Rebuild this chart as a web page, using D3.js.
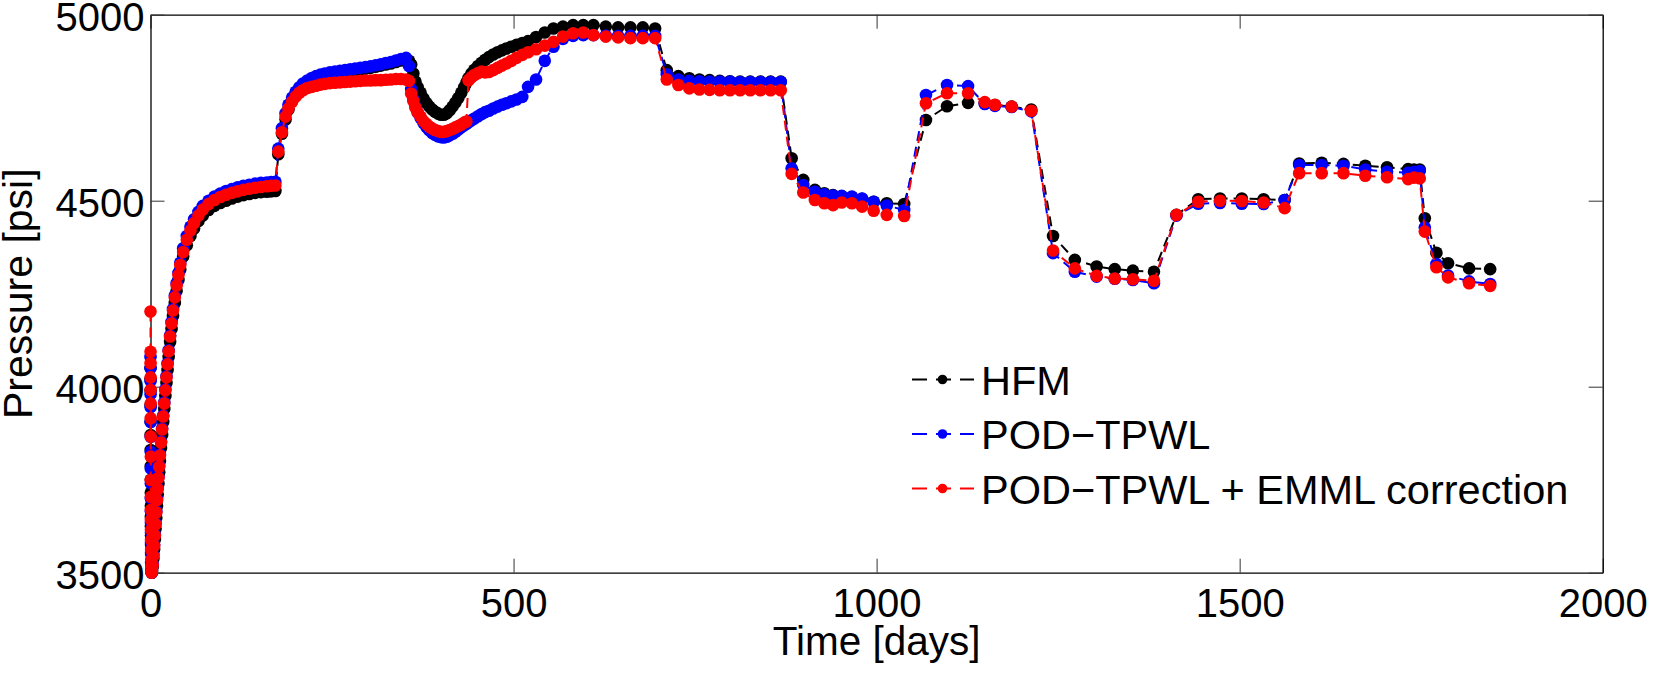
<!DOCTYPE html>
<html>
<head>
<meta charset="utf-8">
<script src="https://cdn.jsdelivr.net/npm/d3@7"></script>
<style>
  html, body { margin: 0; padding: 0; background: #fff; }
  svg text { font-family: "Liberation Sans", Arial, Helvetica, sans-serif; fill: #000; }
</style>
</head>
<body>
<svg id="chart" width="1674" height="684"></svg>
<script>
"use strict";

/* time steps [days], one row per control period */
var days = [
  0, 0.05, 0.1, 0.15, 0.2, 0.25, 0.3, 0.35, 0.4, 0.45, 0.5, 0.55, 0.6, 0.7, 0.8, 0.9, 1.0, 1.2, 1.4, 1.7,
  2, 3, 4, 5, 6, 7, 8, 9, 10, 11, 12, 13, 14.5, 16, 17.5, 19, 20.5, 22, 23.5, 25, 27, 29, 31, 33.5, 36, 38.5, 41, 45, 50, 55, 60, 66, 72, 80, 88, 96, 104, 112, 120, 128, 136, 144, 152, 160, 166, 172,
  176, 181, 186, 190, 195, 200, 205, 210, 216, 222, 228, 234, 240, 247, 254, 261, 268, 275, 282, 289, 296, 303, 310, 317, 324, 331, 338, 345, 352,
  356, 359, 362, 365, 368, 372, 376, 380, 384, 388, 392, 396, 400, 404, 408, 412, 416, 420, 424, 428, 432, 435, 438, 442, 446, 451, 456, 461, 466, 472, 478, 484, 490, 497, 504, 512, 520, 531, 543, 555, 568, 582, 596, 610, 627, 644, 661, 678, 695,
  711, 727, 742, 756, 770, 784, 798, 812, 826, 840, 854, 868,
  883, 899, 915, 928, 940, 952, 966, 980, 996, 1014, 1038,
  1068, 1097, 1126, 1149, 1163, 1186, 1213,
  1243, 1273, 1303, 1328, 1353, 1382,
  1413, 1443, 1473, 1503, 1533, 1562,
  1582, 1613, 1643, 1673, 1703, 1732, 1740, 1748,
  1755, 1771, 1787, 1816, 1845
];

var hfm = [
  4050, 4020, 3990, 3950, 3906, 3870, 3830, 3786, 3750, 3715, 3680, 3650, 3625, 3600, 3575, 3550, 3528, 3512, 3503, 3500,
  3502, 3515, 3538, 3563, 3590, 3618, 3648, 3680, 3710, 3740, 3770, 3800, 3835, 3870, 3905, 3940, 3975, 4010, 4045, 4080, 4120, 4155, 4190, 4225, 4258, 4287, 4315, 4350, 4380, 4405, 4425, 4445, 4460, 4475, 4486, 4494, 4500, 4506, 4511, 4515, 4518, 4521, 4523, 4524, 4525, 4526,
  4625, 4680, 4718, 4745, 4768, 4785, 4798, 4808, 4817, 4825, 4830, 4835, 4838, 4841, 4843, 4845, 4847, 4849, 4851, 4853, 4855, 4857, 4860, 4863, 4866, 4869, 4873, 4877, 4880,
  4876, 4866, 4842, 4820, 4805, 4790, 4775, 4763, 4753, 4745, 4739, 4734, 4731, 4731, 4735, 4743, 4753, 4764, 4776, 4790, 4805, 4817, 4830, 4842, 4852, 4862, 4871, 4879, 4886, 4893, 4899, 4904, 4909, 4914, 4919, 4924, 4929, 4940, 4952, 4963, 4968, 4972, 4972, 4972, 4968, 4966, 4966, 4966, 4963,
  4851, 4835, 4829, 4826, 4824, 4822, 4821, 4820, 4820, 4820, 4820, 4820,
  4614, 4556, 4529, 4520, 4515, 4512, 4510, 4505, 4497, 4493, 4491,
  4717, 4754, 4763, 4762, 4757, 4753, 4745,
  4405, 4341, 4323, 4316, 4312, 4309,
  4462, 4504, 4506, 4506, 4504, 4502,
  4600, 4602, 4599, 4594, 4590, 4585, 4584, 4584,
  4453, 4360, 4332, 4318, 4316
];

var podTpwl = [
  4080, 4050, 4015, 3980, 3945, 3905, 3865, 3825, 3780, 3740, 3700, 3665, 3635, 3608, 3580, 3555, 3530, 3514, 3504, 3500,
  3505, 3523, 3548, 3575, 3603, 3633, 3665, 3698, 3728, 3758, 3788, 3818, 3853, 3888, 3923, 3958, 3993, 4028, 4063, 4098, 4138, 4174, 4209, 4245, 4278, 4306, 4333, 4372, 4405, 4430, 4450, 4470, 4486, 4500, 4511, 4519, 4526, 4531, 4536, 4540, 4543, 4546, 4548, 4549, 4550, 4551,
  4640, 4695, 4735, 4758, 4777, 4793, 4805, 4815, 4823, 4830, 4835, 4839, 4842, 4845, 4847, 4849, 4851, 4853, 4855, 4857, 4859, 4861, 4864, 4867, 4870, 4873, 4877, 4881, 4884,
  4862, 4800, 4772, 4752, 4737, 4722, 4709, 4698, 4689, 4682, 4677, 4673, 4671, 4670, 4672, 4676, 4680, 4685, 4691, 4697, 4703, 4707, 4711, 4716, 4721, 4727, 4733, 4738, 4742, 4748, 4753, 4758, 4762, 4767, 4772, 4779, 4806, 4826, 4876, 4914, 4935, 4943, 4945, 4945, 4944, 4943, 4943, 4943, 4943,
  4840, 4826, 4822, 4821, 4820, 4820, 4820, 4819, 4819, 4819, 4819, 4819,
  4587, 4542, 4524, 4517, 4514, 4513, 4511, 4506, 4497, 4487, 4475,
  4784, 4811, 4808, 4760, 4755, 4752, 4740,
  4359, 4309, 4296, 4290, 4287, 4278,
  4460, 4492, 4494, 4492, 4491, 4502,
  4596, 4596, 4594, 4584, 4578, 4575, 4578, 4580,
  4428, 4330, 4299, 4283, 4276
];

var podTpwlEmml = [
  4202, 4094, 4063, 4025, 3991, 3955, 3915, 3866, 3812, 3749, 3704, 3669, 3642, 3615, 3588, 3561, 3534, 3516, 3505, 3500,
  3503, 3520, 3545, 3572, 3600, 3630, 3662, 3695, 3725, 3755, 3785, 3815, 3850, 3885, 3920, 3955, 3990, 4025, 4060, 4095, 4135, 4170, 4205, 4240, 4272, 4300, 4327, 4362, 4395, 4420, 4440, 4460, 4476, 4491, 4502, 4510, 4516, 4521, 4525, 4529, 4532, 4535, 4537, 4539, 4540, 4541,
  4632, 4684, 4726, 4748, 4766, 4780, 4790, 4797, 4803, 4806, 4809, 4812, 4814, 4816, 4817, 4818, 4819, 4820, 4821, 4822, 4823, 4823, 4824, 4824, 4825, 4826, 4827, 4827, 4826,
  4822, 4788, 4768, 4750, 4737, 4726, 4714, 4706, 4699, 4694, 4690, 4687, 4685, 4685, 4687, 4690, 4693, 4697, 4701, 4705, 4710, 4713, 4824, 4832, 4838, 4843, 4847, 4845, 4846, 4851, 4857, 4863, 4869, 4876, 4884, 4892, 4899, 4907, 4917, 4927, 4941, 4950, 4952, 4945, 4941, 4939, 4937, 4937, 4937,
  4826, 4811, 4802, 4799, 4798, 4797, 4797, 4797, 4797, 4797, 4797, 4797,
  4572, 4522, 4502, 4493, 4488, 4495, 4493, 4484, 4473, 4462, 4459,
  4762, 4789, 4789, 4765, 4758, 4753, 4742,
  4366, 4318, 4298, 4291, 4289, 4285,
  4462, 4497, 4500, 4499, 4495, 4480,
  4574, 4574, 4574, 4567, 4563, 4558, 4562, 4560,
  4417, 4321, 4294, 4278, 4271
];

var seriesNames = ["HFM", "POD\u2212TPWL", "POD\u2212TPWL + EMML correction"];
var seriesColors = ["#000000", "#0000ff", "#ff0000"];
var xTicks = [0, 500, 1000, 1500, 2000];
var yTicks = [3500, 4000, 4500, 5000];

var FONT = 40;
var plotLeft = 150.5, plotRight = 1602.7, plotTop = 14.7, plotBottom = 572.7;

var x = d3.scaleLinear().domain([0, 2000]).range([plotLeft, plotRight]);
var y = d3.scaleLinear().domain([3500, 5000]).range([plotBottom, plotTop]);

var svg = d3.select("#chart");
svg.append("rect").attr("width", 1674).attr("height", 684).attr("fill", "#fff");

/* axes, ticks pointing inside, mirrored on top and right */
function styleAxis(g) {
  g.attr("font-family", null).attr("font-size", null);
  g.select(".domain").attr("stroke", "#000").attr("stroke-width", 1.3);
  g.selectAll(".tick line").attr("stroke", "#333").attr("stroke-width", 1);
  g.selectAll(".tick text").style("font-size", FONT + "px");
}

svg.append("g")
   .attr("transform", "translate(0," + plotBottom + ")")
   .call(d3.axisBottom(x).tickValues(xTicks).tickSizeInner(-14).tickSizeOuter(0)
           .tickPadding(16).tickFormat(d3.format("d")))
   .call(styleAxis);

svg.append("g")
   .attr("transform", "translate(0," + plotTop + ")")
   .call(d3.axisTop(x).tickValues(xTicks).tickSizeInner(-14).tickSizeOuter(0).tickFormat(""))
   .call(styleAxis);

svg.append("g")
   .attr("transform", "translate(" + plotLeft + ",0)")
   .call(d3.axisLeft(y).tickValues(yTicks).tickSizeInner(-14).tickSizeOuter(0)
           .tickPadding(6).tickFormat(d3.format("d")))
   .call(styleAxis)
   .selectAll(".tick text").attr("dy", "0.4em");

svg.append("g")
   .attr("transform", "translate(" + plotRight + ",0)")
   .call(d3.axisRight(y).tickValues(yTicks).tickSizeInner(-14).tickSizeOuter(0).tickFormat(""))
   .call(styleAxis);

/* axis titles */
svg.append("text")
   .attr("x", (plotLeft + plotRight) / 2)
   .attr("y", 655)
   .attr("text-anchor", "middle")
   .style("font-size", "40.5px")
   .text("Time [days]");

svg.append("text")
   .attr("transform", "translate(32," + ((plotTop + plotBottom) / 2) + ") rotate(-90)")
   .attr("text-anchor", "middle")
   .style("font-size", "41px")
   .text("Pressure [psi]");

/* series */
var series = [hfm, podTpwl, podTpwlEmml].map(function (vals, i) {
  return {
    name: seriesNames[i],
    color: seriesColors[i],
    points: vals.map(function (v, j) { return { t: days[j], p: v }; })
  };
});

var line = d3.line()
             .x(function (d) { return x(d.t); })
             .y(function (d) { return y(d.p); });

series.forEach(function (s, i) {
  var g = svg.append("g").attr("class", "series_" + i);
  g.append("path")
   .datum(s.points)
   .attr("d", line)
   .attr("fill", "none")
   .attr("stroke", s.color)
   .attr("stroke-width", 2)
   .attr("stroke-dasharray", "10,6");
  g.selectAll("circle")
   .data(s.points)
   .enter()
   .append("circle")
   .attr("cx", function (d) { return x(d.t); })
   .attr("cy", function (d) { return y(d.p); })
   .attr("r", 6.3)
   .attr("fill", s.color);
});

/* legend, no box */
var legend = svg.append("g").attr("transform", "translate(912,379.5)");
series.forEach(function (s, i) {
  var row = legend.append("g").attr("transform", "translate(0," + (i * 54.5) + ")");
  row.append("line")
     .attr("x1", 0).attr("x2", 62).attr("y1", 0).attr("y2", 0)
     .attr("stroke", s.color)
     .attr("stroke-width", 2)
     .attr("stroke-dasharray", "15,9");
  row.append("circle").attr("cx", 30.5).attr("cy", 0).attr("r", 4.8).attr("fill", s.color);
  row.append("text")
     .attr("x", 69)
     .attr("y", 15)
     .style("font-size", "41.5px")
     .text(s.name);
});
</script>
</body>
</html>
